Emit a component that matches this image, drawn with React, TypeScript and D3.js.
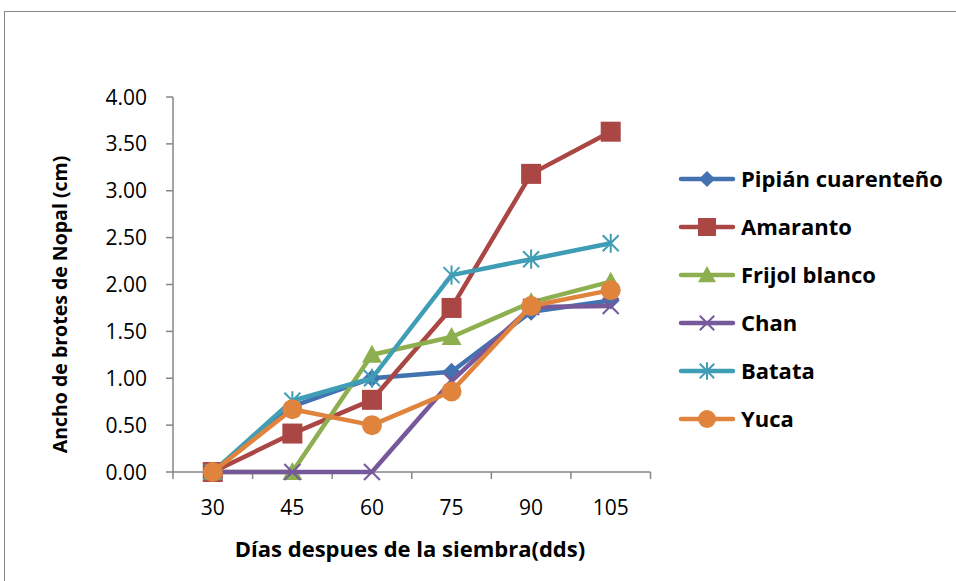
import React from "react";
import * as d3 from "d3";

const categories = ["30", "45", "60", "75", "90", "105"];
const seriesNames = ["Pipián cuarenteño", "Amaranto", "Frijol blanco", "Chan", "Batata", "Yuca"];
const pipian = [0, 0.7, 1.0, 1.07, 1.71, 1.83];
const amaranto = [0, 0.41, 0.77, 1.75, 3.18, 3.63];
const frijol = [0, 0, 1.25, 1.44, 1.81, 2.03];
const chan = [0, 0, 0, 0.97, 1.76, 1.77];
const batata = [0, 0.76, 1.0, 2.1, 2.27, 2.44];
const yuca = [0, 0.67, 0.5, 0.86, 1.77, 1.94];
const yTicks = [0, 0.5, 1, 1.5, 2, 2.5, 3, 3.5, 4];

const seriesValues = [pipian, amaranto, frijol, chan, batata, yuca];
const colors = ["#4372B0", "#AA4643", "#8DAF4F", "#76599A", "#3F9DB6", "#E0843D"];
const markers = ["diamond", "square", "triangle", "x", "star", "circle"];

const W = 956, H = 581;
const left = 173, right = 650.5, top = 97, bottom = 472;
const FONT = "'Open Sans', Lato, sans-serif";

function Marker({ type, x, y, color, legend }: any) {
  const s = legend ? 0.9 : 1;
  switch (type) {
    case "diamond": {
      const r = 9 * s;
      return <path d={`M${x},${y - r}L${x + r},${y}L${x},${y + r}L${x - r},${y}Z`} fill={color} />;
    }
    case "square": {
      const r = 10 * s;
      return <rect x={x - r} y={y - r} width={2 * r} height={2 * r} fill={color} />;
    }
    case "triangle": {
      const r = 10 * s;
      return <path d={`M${x},${y - r}L${x + r},${y + r * 0.8}L${x - r},${y + r * 0.8}Z`} fill={color} />;
    }
    case "x": {
      const r = 8 * s;
      return (
        <path d={`M${x - r},${y - r}L${x + r},${y + r}M${x - r},${y + r}L${x + r},${y - r}`} stroke={color} strokeWidth={2} />
      );
    }
    case "star": {
      const r = 8 * s;
      return (
        <path
          d={`M${x - r},${y - r}L${x + r},${y + r}M${x - r},${y + r}L${x + r},${y - r}M${x},${y - r * 1.2}L${x},${y + r * 1.2}`}
          stroke={color}
          strokeWidth={2}
        />
      );
    }
    default: {
      const r = 10 * s;
      return <circle cx={x} cy={y} r={r} fill={color} />;
    }
  }
}

export default function App() {
  const x = d3.scaleBand<string>().domain(categories).range([left, right]);
  const y = d3.scaleLinear().domain([0, 4]).range([bottom, top]);
  const cx = (c: string) => (x(c) as number) + x.bandwidth() / 2;
  const line = d3
    .line<number>()
    .x((_, i) => cx(categories[i]))
    .y((d) => y(d));

  const boundaries = d3.range(categories.length + 1).map((i) => left + i * x.bandwidth());
  const legendX = 681, legendY0 = 179, legendStep = 48;

  return (
    <svg width={W} height={H} style={{ position: "absolute", left: 0, top: 0 }}>
      <rect x={0} y={0} width={W} height={H} fill="#fff" />
      <rect x={4.5} y={11.5} width={W + 10} height={H + 10} fill="none" stroke="#868686" strokeWidth={1} />
      {/* y axis */}
      <line x1={left} x2={left} y1={top} y2={bottom} stroke="#868686" strokeWidth={1.5} />
      {yTicks.map((t) => (
        <g key={t}>
          <line x1={left - 7} x2={left} y1={y(t)} y2={y(t)} stroke="#868686" strokeWidth={1.5} />
          <text x={147} y={y(t)} dy="0.36em" textAnchor="end" fontFamily={FONT} fontSize={21} fill="#000">
            {t.toFixed(2)}
          </text>
        </g>
      ))}
      {/* x axis */}
      <line x1={left} x2={right} y1={bottom} y2={bottom} stroke="#868686" strokeWidth={1.5} />
      {boundaries.map((b, i) => (
        <line key={i} x1={b} x2={b} y1={bottom} y2={bottom + 7} stroke="#868686" strokeWidth={1.5} />
      ))}
      {categories.map((c) => (
        <text key={c} x={cx(c)} y={515} textAnchor="middle" fontFamily={FONT} fontSize={21} fill="#000">
          {c}
        </text>
      ))}
      <text x={410} y={557} textAnchor="middle" fontFamily={FONT} fontSize={22} fontWeight="bold" fill="#000">
        Días despues de la siembra(dds)
      </text>
      <text
        transform={`translate(67,${(top + bottom) / 2 + 20}) rotate(-90)`}
        textAnchor="middle"
        fontFamily={FONT}
        fontSize={19.5}
        fontWeight="bold"
        fill="#000"
      >
        Ancho de brotes de Nopal (cm)
      </text>
      {/* series */}
      {seriesValues.map((vals, si) => (
        <g key={si}>
          <path d={line(vals) as string} fill="none" stroke={colors[si]} strokeWidth={4.5} strokeLinejoin="round" />
          {vals.map((v, i) => (
            <Marker key={i} type={markers[si]} x={cx(categories[i])} y={y(v)} color={colors[si]} />
          ))}
        </g>
      ))}
      {/* legend */}
      {seriesNames.map((n, si) => {
        const ly = legendY0 + si * legendStep;
        return (
          <g key={n}>
            <line x1={legendX} x2={legendX + 52} y1={ly} y2={ly} stroke={colors[si]} strokeWidth={4.5} strokeLinecap="round" />
            <Marker type={markers[si]} x={legendX + 26} y={ly} color={colors[si]} legend />
            <text x={741} y={ly} dy="0.36em" fontFamily={FONT} fontSize={22} fontWeight="bold" fill="#000">
              {n}
            </text>
          </g>
        );
      })}
    </svg>
  );
}
